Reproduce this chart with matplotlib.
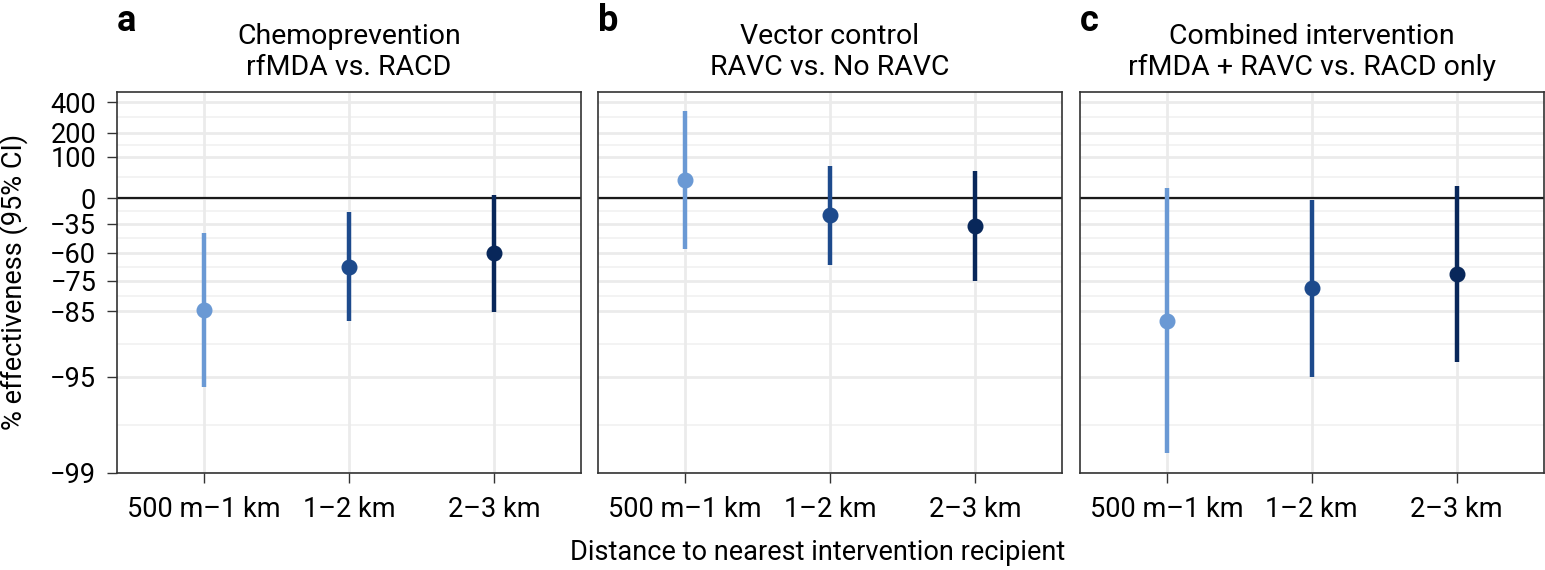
import numpy as np
import matplotlib
matplotlib.use("Agg")
import matplotlib.pyplot as plt

plt.rcParams['font.family'] = ['Roboto', 'DejaVu Sans']

# data: % effectiveness (estimate, lower CI, upper CI) per distance band
distances = ['500 m\u20131 km', '1\u20132 km', '2\u20133 km']
panel_letters = ['a', 'b', 'c']
panel_titles = ['Chemoprevention\nrfMDA vs. RACD',
                'Vector control\nRAVC vs. No RAVC',
                'Combined intervention\nrfMDA + RAVC vs. RACD only']
est_chemo = [-84.7, -68.4, -60.5]
lo_chemo = [-95.8, -87.2, -85.3]
hi_chemo = [-44.7, -21.3, 5.2]
est_vector = [35.2, -25.2, -37.5]
lo_vector = [-57.7, -67.6, -75.3]
hi_vector = [330, 71, 57.4]
est_combined = [-87.3, -78.0, -72.1]
lo_combined = [-98.6, -95.0, -93.6]
hi_combined = [17.5, -3.4, 22.2]
y_ticks = [400, 200, 100, 0, -35, -60, -75, -85, -95, -99]

colors = ['#6a99d4', '#1d4a8c', '#08275a']

panels = [(est_chemo, lo_chemo, hi_chemo),
          (est_vector, lo_vector, hi_vector),
          (est_combined, lo_combined, hi_combined)]


def to_rr(p):
    return 1 + np.asarray(p, dtype=float) / 100.0


fig = plt.figure(figsize=(15.45, 5.7), dpi=100)
lefts = [117, 598, 1079.5]
W, H = 1545, 570
ax_w = 464
ax_bot, ax_top = 472.7, 91.7

major_rr = to_rr(y_ticks)
lm = np.log10(np.sort(major_rr))
minor_rr = 10 ** ((lm[:-1] + lm[1:]) / 2)

for i, (est, lo, hi) in enumerate(panels):
    ax = fig.add_axes([lefts[i] / W, 1 - ax_bot / H, ax_w / W, (ax_bot - ax_top) / H])
    ax.set_yscale('log')
    ax.set_ylim(10 ** -2.0, 10 ** 0.775)
    ax.set_xlim(0.4, 3.6)
    x = np.arange(1, 4)
    for y in major_rr:
        ax.axhline(y, color='#ebebeb', lw=2.0, zorder=0)
    for y in minor_rr:
        ax.axhline(y, color='#f0f0f0', lw=1.1, zorder=0)
    for xx in x:
        ax.axvline(xx, color='#ebebeb', lw=2.0, zorder=0)
    ax.axhline(1, color='#1a1a1a', lw=1.6, zorder=1)
    for j in range(3):
        ax.plot([x[j], x[j]], [to_rr(lo[j]), to_rr(hi[j])], color=colors[j],
                lw=3.2, solid_capstyle='butt', zorder=2)
        ax.plot(x[j], to_rr(est[j]), 'o', color=colors[j], ms=10.5, zorder=3)
    ax.set_xticks(x)
    ax.set_xticklabels(distances, fontsize=19.5)
    ax.yaxis.set_minor_locator(matplotlib.ticker.NullLocator())
    ax.set_yticks(major_rr)
    if i == 0:
        ax.set_yticklabels([str(t).replace('-', '\u2212') for t in y_ticks], fontsize=19.5)
        ax.tick_params(axis='y', length=7, width=1.0, color='#333333', pad=8)
    else:
        ax.set_yticklabels([])
        ax.tick_params(axis='y', length=0)
    ax.tick_params(axis='x', length=7, width=1.0, color='#333333', pad=10)
    for s in ax.spines.values():
        s.set_linewidth(1.2)
        s.set_color('#333333')
    cx = (lefts[i] + ax_w / 2) / W
    fig.text(cx, 1 - 52 / H, panel_titles[i], ha='center', va='center',
             fontsize=20.5, linespacing=1.15)
    fig.text((lefts[i] + 0) / W, 1 - 21 / H, panel_letters[i], ha='left', va='center',
             fontsize=26, fontweight='bold')

fig.text(14 / W, 1 - 282 / H, '% effectiveness (95% CI)', rotation=90,
         ha='center', va='center', fontsize=19.5)
fig.text(818 / W, 1 - 552 / H, 'Distance to nearest intervention recipient',
         ha='center', va='center', fontsize=19.5)

fig.savefig('out.png', dpi=100)
